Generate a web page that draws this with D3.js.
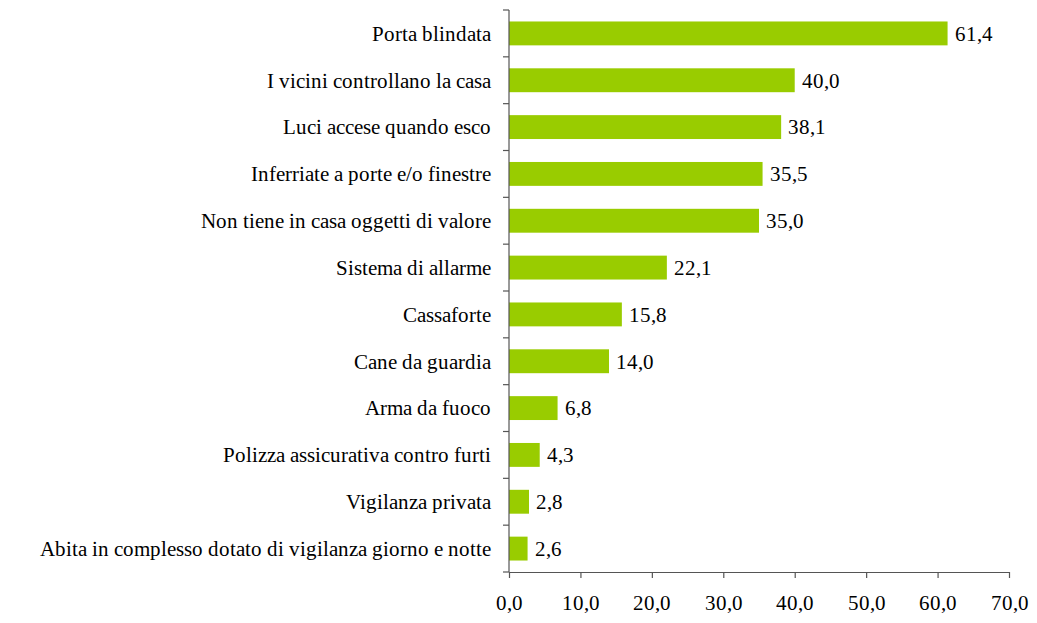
<!DOCTYPE html>
<html>
<head>
<meta charset="utf-8">
<script src="https://cdn.jsdelivr.net/npm/d3@7"></script>
<style>
  @font-face { font-family: "ChartSerif"; src: local("Liberation Serif"), local("LiberationSerif"), local("Times New Roman"); }
  body { margin: 0; background: #fff; }
  svg text { font-family: "ChartSerif", "Liberation Serif", "Times New Roman", serif !important; }
</style>
</head>
<body>
<div id="chart"></div>
<script>
var categories = [
  "Porta blindata",
  "I vicini controllano la casa",
  "Luci accese quando esco",
  "Inferriate a porte e/o finestre",
  "Non tiene in casa oggetti di valore",
  "Sistema di allarme",
  "Cassaforte",
  "Cane da guardia",
  "Arma da fuoco",
  "Polizza assicurativa contro furti",
  "Vigilanza privata",
  "Abita in complesso dotato di vigilanza giorno e notte"
];
var values = [61.4, 40.0, 38.1, 35.5, 35.0, 22.1, 15.8, 14.0, 6.8, 4.3, 2.8, 2.6];
var xTicks = [0, 10, 20, 30, 40, 50, 60, 70];

var width = 1037, height = 623;
var margin = {top: 10, right: 28, bottom: 51, left: 509};
var fontFamily = "ChartSerif, 'Liberation Serif', 'Times New Roman', serif";
var fontSize = 21;

var svg = d3.select("#chart").append("svg")
    .attr("width", width)
    .attr("height", height)
    .attr("font-family", fontFamily)
    .attr("font-size", fontSize);

var x = d3.scaleLinear()
    .domain([0, 70])
    .range([margin.left, width - margin.right]);

var y = d3.scaleBand()
    .domain(categories)
    .range([margin.top, height - margin.bottom])
    .paddingInner(0.49)
    .paddingOuter(0.245);

var fmt = function(d) { return d.toFixed(1).replace(".", ","); };

// bars
svg.append("g").selectAll("rect")
    .data(values)
  .enter().append("rect")
    .attr("x", x(0))
    .attr("y", function(d, i) { return y(categories[i]); })
    .attr("width", function(d) { return x(d) - x(0); })
    .attr("height", y.bandwidth())
    .attr("fill", "#99cc00");

// value labels
svg.append("g").selectAll("text")
    .data(values)
  .enter().append("text")
    .attr("x", function(d) { return x(d) + 7; })
    .attr("y", function(d, i) { return y(categories[i]) + y.bandwidth() / 2; })
    .attr("dy", "0.35em")
    .attr("font-size", fontSize)
    .attr("fill", "#000")
    .text(fmt);

// category labels
svg.append("g").selectAll("text")
    .data(categories)
  .enter().append("text")
    .attr("x", margin.left - 18)
    .attr("y", function(d) { return y(d) + y.bandwidth() / 2; })
    .attr("dy", "0.35em")
    .attr("text-anchor", "end")
    .attr("font-size", fontSize)
    .attr("fill", "#000")
    .text(function(d) { return d; });

// y axis, ticks sit on the band boundaries
var step = y.step();
var yTickPos = d3.range(categories.length + 1).map(function(i) { return margin.top + i * step; });
var yAxis = svg.append("g");
yAxis.append("line")
    .attr("x1", x(0)).attr("x2", x(0))
    .attr("y1", margin.top).attr("y2", height - margin.bottom)
    .attr("stroke", "#555").attr("stroke-width", 1.2);
yAxis.selectAll(".yt")
    .data(yTickPos)
  .enter().append("line")
    .attr("class", "yt")
    .attr("x1", x(0) - 6).attr("x2", x(0))
    .attr("y1", function(d) { return d; }).attr("y2", function(d) { return d; })
    .attr("stroke", "#555").attr("stroke-width", 1.2);

// x axis
var xAxis = svg.append("g")
    .attr("transform", "translate(0," + (height - margin.bottom) + ")")
    .call(d3.axisBottom(x).tickValues(xTicks).tickSize(6).tickSizeOuter(0).tickPadding(17).tickFormat(fmt));
xAxis.attr("font-family", null).attr("font-size", fontSize);
xAxis.select(".domain").attr("stroke", "#555").attr("stroke-width", 1.2);
xAxis.selectAll(".tick line").attr("stroke", "#555").attr("stroke-width", 1.2);
xAxis.selectAll(".tick text").attr("fill", "#000");
</script>
</body>
</html>
